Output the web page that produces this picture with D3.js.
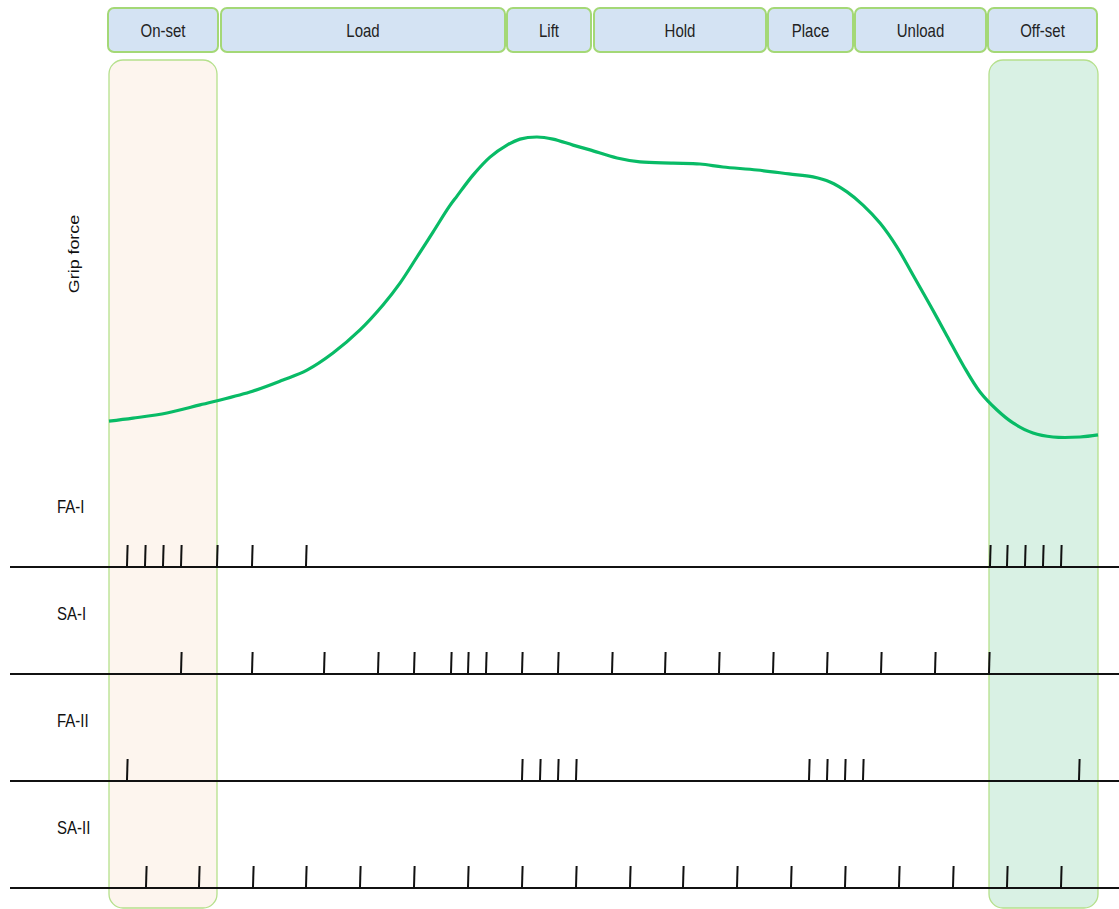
<!DOCTYPE html>
<html>
<head>
<meta charset="utf-8">
<script src="https://cdn.jsdelivr.net/npm/d3@7"></script>
<style>
  html, body { margin: 0; padding: 0; background: #fff; }
  svg { display: block; font-family: "Liberation Sans", Arial, sans-serif; }
</style>
</head>
<body>
<svg id="chart" width="1119" height="909"></svg>
<script>
// Task phases: name, start and end time (ms-like units)
const phaseNames  = ["On-set", "Load", "Lift", "Hold", "Place", "Unload", "Off-set"];
const phaseStarts = [-1, 112, 398, 485, 659, 746, 879];
const phaseEnds   = [109, 396, 482, 657, 744, 877, 988];

// Shaded columns for the contact on-set / off-set windows
const windowStarts = [0, 880];
const windowEnds   = [108, 989];
const windowFills  = ["#fdf5ee", "#d9f1e4"];

// Grip force trace (time, force in % of peak)
const forceTime = [0, 24, 58, 91, 141, 174, 198, 224, 251, 274, 291, 308, 324, 340, 348, 364, 381, 398, 411, 428,
                   444, 464, 481, 508, 531, 564, 591, 614, 648, 680, 704, 721, 738, 754, 771, 788, 804, 821, 838,
                   854, 871, 888, 904, 924, 944, 971, 989];
const forceValue = [5.3, 6.3, 8.0, 10.7, 15.0, 19.0, 22.3, 28.0, 35.7, 44.0, 51.3, 60.0, 68.3, 76.7, 80.3, 87.3, 93.3, 97.3, 99.3, 100,
                    99.3, 97.3, 95.7, 93.0, 91.7, 91.3, 91.0, 90.0, 89.0, 87.7, 86.7, 85.0, 81.7, 77.3, 71.3, 63.3, 54.0, 44.0, 33.7,
                    24.0, 15.0, 9.0, 4.7, 1.3, 0, 0, 0.7];

// Afferent unit spike trains (spike times)
const unitNames = ["FA-I", "SA-I", "FA-II", "SA-II"];
const spikesFA1 = [18, 36, 54, 72, 108, 143, 197, 881, 898, 916, 934, 952];
const spikesSA1 = [72, 143, 215, 269, 305, 342, 359, 377, 413, 449, 503, 556, 610, 664, 718, 772, 826, 880];
const spikesFA2 = [18, 413, 431, 449, 467, 700, 718, 736, 754, 970];
const spikesSA2 = [37, 90, 144, 197, 251, 305, 359, 413, 467, 521, 574, 628, 682, 736, 790, 844, 898, 952];
const unitSpikes = [spikesFA1, spikesSA1, spikesFA2, spikesSA2];

const W = 1119, H = 909;
const TEXT_STRETCH = 1.18;   // labels are drawn slightly tall
const svg = d3.select("#chart");

const x = d3.scaleLinear().domain([0, 988]).range([109, 1097]);
const yForce = d3.scaleLinear().domain([0, 100]).range([437, 137]);
const rowBase = d3.scalePoint().domain(unitNames).range([567, 888]);

// shaded windows
svg.append("g").selectAll("rect")
  .data(windowStarts.map((s, i) => ({ s, e: windowEnds[i], fill: windowFills[i] })))
  .join("rect")
  .attr("x", d => x(d.s))
  .attr("y", 60)
  .attr("width", d => x(d.e) - x(d.s))
  .attr("height", 848)
  .attr("rx", 14)
  .attr("fill", d => d.fill)
  .attr("stroke", "#b5e08c")
  .attr("stroke-width", 1.3);

// phase header boxes
const phases = phaseNames.map((n, i) => ({ n, s: phaseStarts[i], e: phaseEnds[i] }));
const ph = svg.append("g").selectAll("g").data(phases).join("g");
ph.append("rect")
  .attr("x", d => x(d.s))
  .attr("y", 8)
  .attr("width", d => x(d.e) - x(d.s))
  .attr("height", 44)
  .attr("rx", 6)
  .attr("fill", "#d4e3f3")
  .attr("stroke", "#a4d876")
  .attr("stroke-width", 2);
ph.append("text")
  .attr("transform", d => `translate(${(x(d.s) + x(d.e)) / 2},31) scale(1,${TEXT_STRETCH})`)
  .attr("text-anchor", "middle")
  .attr("dominant-baseline", "central")
  .attr("font-size", 15)
  .attr("fill", "#222")
  .text(d => d.n);

// grip force label
svg.append("text")
  .attr("transform", `translate(79,254) rotate(-90) scale(${TEXT_STRETCH + 0.05},1)`)
  .attr("text-anchor", "middle")
  .attr("font-size", 14.5)
  .attr("fill", "#111")
  .text("Grip force");

// grip force curve
const line = d3.line()
  .x(d => x(d[0]))
  .y(d => yForce(d[1]))
  .curve(d3.curveCatmullRom.alpha(0.5));
svg.append("path")
  .datum(forceTime.map((t, i) => [t, forceValue[i]]))
  .attr("d", line)
  .attr("fill", "none")
  .attr("stroke", "#08bb66")
  .attr("stroke-width", 3.2)
  .attr("stroke-linejoin", "round");

// spike rasters
const rows = svg.append("g").selectAll("g")
  .data(unitNames.map((n, i) => ({ n, spikes: unitSpikes[i] })))
  .join("g")
  .attr("transform", d => `translate(0,${rowBase(d.n)})`);

rows.append("line")
  .attr("x1", 10).attr("x2", W)
  .attr("y1", 0).attr("y2", 0)
  .attr("stroke", "#111")
  .attr("stroke-width", 2);

rows.append("text")
  .attr("transform", `translate(57,-60) scale(1,${TEXT_STRETCH})`)
  .attr("dominant-baseline", "central")
  .attr("font-size", 15)
  .attr("fill", "#111")
  .text(d => d.n);

rows.selectAll("line.spike")
  .data(d => d.spikes)
  .join("line")
  .attr("class", "spike")
  .attr("x1", t => x(t)).attr("x2", t => x(t) + 0.6)
  .attr("y1", -1).attr("y2", -22)
  .attr("stroke", "#111")
  .attr("stroke-width", 2);
</script>
</body>
</html>
